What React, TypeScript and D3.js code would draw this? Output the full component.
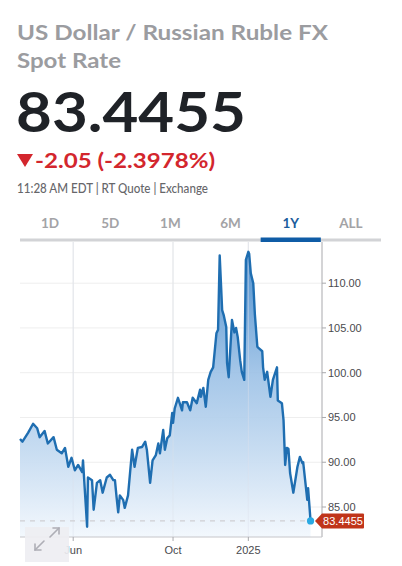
import React from "react";
import * as d3 from "d3";

const W = 402;
const H = 566;

const dates = [
  "2024-03-28","2024-03-31","2024-04-07","2024-04-13","2024-04-18","2024-04-21","2024-04-27","2024-05-01",
  "2024-05-08","2024-05-12","2024-05-18","2024-05-22","2024-05-26","2024-05-30","2024-06-03","2024-06-07",
  "2024-06-12","2024-06-13","2024-06-15","2024-06-18","2024-06-19","2024-06-24","2024-06-26","2024-06-30",
  "2024-07-04","2024-07-07","2024-07-12","2024-07-16","2024-07-20","2024-07-22","2024-07-24","2024-07-26",
  "2024-07-28","2024-08-01","2024-08-03","2024-08-07","2024-08-12","2024-08-15","2024-08-19","2024-08-24",
  "2024-08-28","2024-08-30","2024-09-03","2024-09-06","2024-09-10","2024-09-13","2024-09-15","2024-09-19",
  "2024-09-21","2024-09-24","2024-09-27","2024-09-30","2024-10-01","2024-10-03","2024-10-07","2024-10-12",
  "2024-10-13","2024-10-18","2024-10-22","2024-10-25","2024-10-30","2024-11-03","2024-11-04","2024-11-07",
  "2024-11-10","2024-11-13","2024-11-16","2024-11-19","2024-11-23","2024-11-25","2024-11-27","2024-11-30",
  "2024-12-02","2024-12-05","2024-12-06","2024-12-08","2024-12-12","2024-12-15","2024-12-17","2024-12-19",
  "2024-12-22","2024-12-24","2024-12-27","2024-12-29","2025-01-01","2025-01-02","2025-01-04","2025-01-07",
  "2025-01-09","2025-01-12","2025-01-13","2025-01-18","2025-01-19","2025-01-21","2025-01-24","2025-01-28",
  "2025-01-31","2025-02-05","2025-02-06","2025-02-11","2025-02-13","2025-02-15","2025-02-17","2025-02-19",
  "2025-02-21","2025-02-25","2025-03-02","2025-03-05","2025-03-08","2025-03-09","2025-03-14","2025-03-15",
  "2025-03-18",
];

const values = [
  92.6, 92.3, 93.3, 94.3, 93.8, 92.8, 93.5, 92.1,
  92.8, 91.4, 91.0, 91.6, 89.5, 90.5, 89.1, 89.7,
  88.9, 90.2, 87.2, 82.8, 88.3, 88.0, 84.7, 87.7,
  88.0, 86.6, 88.3, 88.6, 88.0, 88.0, 86.1, 84.4,
  86.3, 85.8, 84.9, 86.3, 91.4, 89.5, 91.6, 91.7,
  92.3, 91.4, 87.7, 90.2, 90.8, 92.1, 91.0, 93.6,
  91.4, 92.7, 93.0, 95.5, 94.4, 96.0, 97.2, 95.8,
  96.7, 96.7, 95.8, 97.2, 96.6, 98.1, 97.3, 98.3,
  96.2, 99.2, 100.1, 100.6, 104.4, 104.8, 113.1, 107.0,
  106.4, 105.1, 101.1, 99.5, 105.9, 104.5, 105.0, 104.0,
  101.4, 100.1, 99.2, 112.6, 113.5, 113.3, 111.1, 110.0,
  106.5, 102.9, 102.8, 102.4, 100.6, 99.2, 100.1, 97.3,
  99.2, 100.6, 96.9, 96.6, 94.7, 89.7, 91.6, 91.5,
  88.8, 86.6, 89.5, 90.6, 89.9, 90.0, 85.8, 87.1,
  83.4455,
];

const yTicks = [85, 90, 95, 100, 105, 110];
const xTickDates = ["2024-06-01", "2024-10-01", "2025-01-01"];
const xTickLabels = ["Jun", "Oct", "2025"];
const tabs = ["1D", "5D", "1M", "6M", "1Y", "ALL"];
const activeTab = "1Y";
const domainStart = "2024-03-28";
const domainEnd = "2025-04-01";
const yDomain = [81.65, 114.6];

const title1 = "US Dollar / Russian Ruble FX";
const title2 = "Spot Rate";
const lastPrice = "83.4455";
const change = "-2.05 (-2.3978%)";
const meta = "11:28 AM EDT | RT Quote | Exchange";

export default function App() {
  const parse = d3.utcParse("%Y-%m-%d");
  const data = dates.map((d, i) => ({ date: parse(d) as Date, value: values[i] }));
  const left = 20, right = 322, top = 242, bottom = 537;

  const x = d3.scaleUtc().domain([parse(domainStart) as Date, parse(domainEnd) as Date]).range([left, right]);
  const y = d3.scaleLinear().domain(yDomain).range([bottom, top]);
  const tabScale = d3.scaleBand<string>().domain(tabs).range([20, 381]);

  const line = d3.line<{ date: Date; value: number }>().x(d => x(d.date)).y(d => y(d.value));
  const area = d3.area<{ date: Date; value: number }>().x(d => x(d.date)).y0(bottom).y1(d => y(d.value));

  const last = data[data.length - 1];
  const lx = x(last.date);
  const ly = y(last.value);

  const head = "Lato, 'Open Sans', sans-serif";
  const axisFont = "'Liberation Sans', Arial, sans-serif";

  return (
    <svg width={W} height={H} style={{ position: "absolute", left: 0, top: 0, background: "#fff" }}>
      <defs>
        <linearGradient id="areaGrad" gradientUnits="userSpaceOnUse" x1="0" y1={top} x2="0" y2={bottom}>
          <stop offset="0%" stopColor="#3f86c9" stopOpacity="0.95" />
          <stop offset="45%" stopColor="#9cc1e6" stopOpacity="0.9" />
          <stop offset="100%" stopColor="#f3f8fd" stopOpacity="1" />
        </linearGradient>
      </defs>

      {/* header */}
      <text x={17} y={40} fontFamily={head} fontWeight={700} fontSize={21.5} fill="#9b9ca0"
        textLength={311} lengthAdjust="spacingAndGlyphs">{title1}</text>
      <text x={17} y={68} fontFamily={head} fontWeight={700} fontSize={21.5} fill="#9b9ca0"
        textLength={104} lengthAdjust="spacingAndGlyphs">{title2}</text>
      <text x={16} y={132} fontFamily={head} fontWeight={700} fontSize={55} fill="#1f2227"
        textLength={230} lengthAdjust="spacingAndGlyphs">{lastPrice}</text>
      <path d="M17,154 L33,154 L25,167 Z" fill="#d3262d" />
      <text x={35} y={168} fontFamily={head} fontWeight={700} fontSize={21} fill="#d3262d"
        textLength={180} lengthAdjust="spacingAndGlyphs">{change}</text>
      <text x={17} y={193} fontFamily={head} fontWeight={500} fontSize={12.5} fill="#66666a"
        textLength={191} lengthAdjust="spacingAndGlyphs">{meta}</text>

      {/* tabs */}
      {tabs.map(t => (
        <text key={t} x={(tabScale(t) as number) + tabScale.bandwidth() / 2} y={228} textAnchor="middle"
          fontFamily={head} fontWeight={700} fontSize={13.5}
          fill={t === activeTab ? "#1b5c9c" : "#a3a3a6"}>{t}</text>
      ))}

      {/* grid */}
      {yTicks.map(t => (
        <line key={"g" + t} x1={left} x2={right} y1={y(t)} y2={y(t)} stroke="#eeeeee" strokeWidth={1} />
      ))}
      {xTickDates.map(d => (
        <line key={"v" + d} x1={x(parse(d) as Date)} x2={x(parse(d) as Date)} y1={top} y2={bottom}
          stroke="#e8e8e8" strokeWidth={1} />
      ))}

      {/* area & line */}
      <path d={area(data) as string} fill="url(#areaGrad)" />
      {xTickDates.map(d => (
        <line key={"vo" + d} x1={x(parse(d) as Date)} x2={x(parse(d) as Date)} y1={top} y2={bottom}
          stroke="#dde4ee" strokeOpacity={0.5} strokeWidth={1} />
      ))}
      <line x1={left} x2={lx} y1={ly} y2={ly} stroke="#cfcfd3" strokeWidth={1.2} strokeDasharray="5,5" />
      <path d={line(data) as string} fill="none" stroke="#1f6eb1" strokeWidth={2.4} strokeLinejoin="round" />

      {/* tab bar (over plot top) */}
      <rect x={20} y={238.5} width={361} height={3} fill="#d2d3d6" />
      <rect x={tabScale(activeTab) as number} y={237.5} width={tabScale.bandwidth()} height={4.5} fill="#0f5ca6" />

      {/* axes */}
      <line x1={right} x2={right} y1={top} y2={bottom} stroke="#a9a9ad" strokeWidth={1} />
      <line x1={left} x2={right} y1={bottom} y2={bottom} stroke="#c6c6ca" strokeWidth={1} />
      {yTicks.map(t => (
        <g key={"yt" + t}>
          <line x1={right} x2={right + 4} y1={y(t)} y2={y(t)} stroke="#a9a9ad" />
          <text x={right + 6} y={y(t) + 4} fontFamily={axisFont} fontSize={11} fill="#4a4a4e">{t.toFixed(2)}</text>
        </g>
      ))}
      {xTickDates.map((d, i) => (
        <g key={"xt" + d}>
          <line x1={x(parse(d) as Date)} x2={x(parse(d) as Date)} y1={bottom} y2={bottom + 4} stroke="#a9a9ad" />
          <text x={x(parse(d) as Date)} y={554} textAnchor="middle" fontFamily={axisFont} fontSize={11}
            fill="#4a4a4e">{xTickLabels[i]}</text>
        </g>
      ))}

      {/* last value marker */}
      <circle cx={lx} cy={ly} r={3.6} fill="#2aa9e2" />
      <path d={`M${right - 7},${ly} L${right},${ly - 7.5} L${right + 41},${ly - 7.5} Q${right + 42},${ly - 7.5} ${right + 42},${ly - 6.5} L${right + 42},${ly + 6.5} Q${right + 42},${ly + 7.5} ${right + 41},${ly + 7.5} L${right},${ly + 7.5} Z`}
        fill="#c0341a" />
      <text x={right + 21} y={ly + 4} textAnchor="middle" fontFamily={axisFont} fontSize={11} fill="#fff">{lastPrice}</text>

      {/* expand button */}
      <rect x={25} y={527} width={44} height={35} fill="#eeeef2" fillOpacity={0.92} />
      <g stroke="#aeaeb6" strokeWidth={1.6} fill="none" strokeLinecap="round">
        <line x1={35} y1={550} x2={44} y2={541} />
        <polyline points="35,544 35,550 41,550" />
        <line x1={50} y1={537} x2={59} y2={528} />
        <polyline points="53,528 59,528 59,534" />
      </g>
    </svg>
  );
}
